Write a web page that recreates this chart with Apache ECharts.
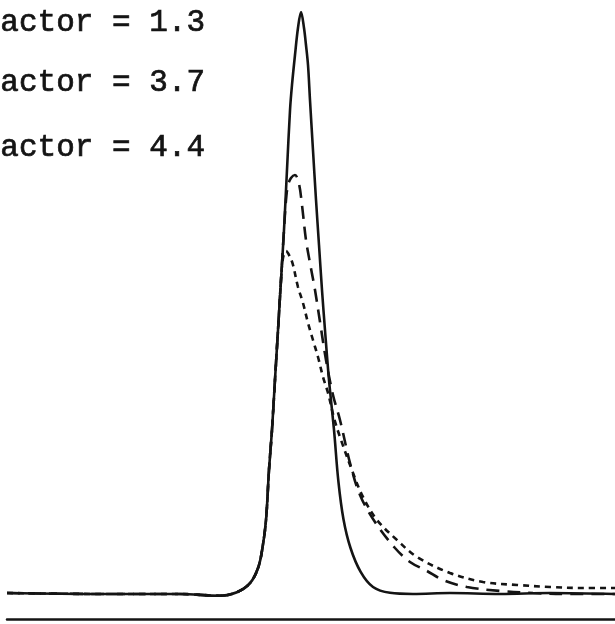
<!DOCTYPE html>
<html>
<head>
<meta charset="utf-8">
<script src="https://cdn.jsdelivr.net/npm/echarts@6/dist/echarts.min.js"></script>
<style>html,body{margin:0;padding:0;background:#fff;}#c{width:615px;height:624px;}</style>
</head>
<body>
<div id="c"></div>
<script>
// Legend labels (left part of the original text is cut off)
const labels = ["actor = 1.3", "actor = 3.7", "actor = 4.4"];

// Time axis (arbitrary units) and detector response (% of tallest peak)
const solidT = [0, 1.835, 3.414, 4.204, 4.539, 4.800, 4.960, 5.040, 5.112, 5.171, 5.230, 5.289, 5.349, 5.408, 5.467, 5.526, 5.586, 5.625, 5.684, 5.743, 5.803, 5.862, 5.901, 5.941, 5.980, 6.039, 6.099, 6.158, 6.217, 6.276, 6.355, 6.454, 6.540, 6.640, 6.780, 6.980, 7.224, 7.559, 8.013, 8.743, 9.730, 10.717, 12];
const solidY = [0.17, 0, 0, -0.3, 0.3, 1.9, 4.6, 7.8, 12.71, 21.31, 28.18, 36.77, 45.36, 53.95, 62.54, 72.85, 83.16, 87.46, 92.61, 97.25, 100, 97.25, 94.33, 90.89, 84.88, 76.29, 67.70, 59.97, 52.23, 45.36, 36.77, 28.18, 19.4, 12.9, 7.9, 3.8, 1.2, 0.2, 0, 0.17, 0, 0.17, 0];

const longT = [0, 1.835, 3.414, 4.204, 4.539, 4.800, 4.960, 5.040, 5.112, 5.171, 5.230, 5.289, 5.349, 5.408, 5.467, 5.507, 5.546, 5.605, 5.684, 5.763, 5.822, 5.901, 5.980, 6.079, 6.178, 6.296, 6.434, 6.572, 6.770, 6.967, 7.263, 7.658, 7.954, 8.289, 8.605, 9.079, 9.730, 10.381, 11.112, 12];
const longY = [0.17, 0, 0, -0.3, 0.3, 1.9, 4.6, 7.8, 12.71, 21.31, 28.18, 36.77, 45.36, 53.95, 62.54, 67.70, 70.27, 71.48, 71.99, 70.45, 66.84, 60.82, 56.87, 52.23, 46.74, 40.21, 34.19, 29.90, 22.51, 17.01, 12.37, 7.90, 5.50, 3.95, 2.41, 1.20, 0.52, 0.17, 0, 0];

const shortT = [0, 1.835, 3.414, 4.204, 4.539, 4.800, 4.960, 5.040, 5.112, 5.171, 5.230, 5.289, 5.349, 5.408, 5.447, 5.507, 5.586, 5.645, 5.743, 5.842, 5.941, 6.039, 6.138, 6.237, 6.336, 6.454, 6.572, 6.829, 7.026, 7.303, 7.697, 8.092, 8.743, 9.395, 10.066, 10.717, 11.368, 12];
const shortY = [0.17, 0, 0, -0.3, 0.3, 1.9, 4.6, 7.8, 12.71, 21.31, 28.18, 36.77, 45.36, 53.95, 57.73, 58.93, 57.90, 56.53, 52.75, 50.0, 46.56, 43.64, 40.72, 37.29, 34.54, 30.24, 26.98, 20.79, 16.67, 12.71, 9.28, 6.36, 3.61, 2.06, 1.55, 1.20, 1.03, 1.03];

const zip = (t, y) => t.map((v, i) => [v, y[i]]);

const chart = echarts.init(document.getElementById('c'), null, {renderer: 'canvas'});
const ink = '#141414';
chart.setOption({
  animation: false,
  backgroundColor: '#ffffff',
  grid: {left: 7, right: 0, top: 12, bottom: 5},
  xAxis: {
    type: 'value', min: 0, max: 12,
    axisLine: {show: true, onZero: false, lineStyle: {color: ink, width: 2.5}},
    axisTick: {show: false}, axisLabel: {show: false}, splitLine: {show: false}
  },
  yAxis: {
    type: 'value', min: -4.3, max: 100,
    axisLine: {show: false}, axisTick: {show: false}, axisLabel: {show: false}, splitLine: {show: false}
  },
  series: [
    {name: labels[2], type: 'line', data: zip(shortT, shortY), showSymbol: false, smooth: 0.35,
     lineStyle: {color: ink, width: 2.6, type: [6, 5], cap: 'butt'}},
    {name: labels[1], type: 'line', data: zip(longT, longY), showSymbol: false, smooth: 0.35,
     lineStyle: {color: ink, width: 2.6, type: [13, 8], cap: 'butt'}},
    {name: labels[0], type: 'line', data: zip(solidT, solidY), showSymbol: false, smooth: 0.35,
     lineStyle: {color: ink, width: 2.6}}
  ],
  graphic: labels.map((s, i) => ({
    type: 'text', left: 0, top: [7, 67, 132][i],
    style: {text: s, font: '31px "Liberation Mono", monospace', fill: ink, stroke: ink, lineWidth: 0.7}
  }))
});
</script>
</body>
</html>
